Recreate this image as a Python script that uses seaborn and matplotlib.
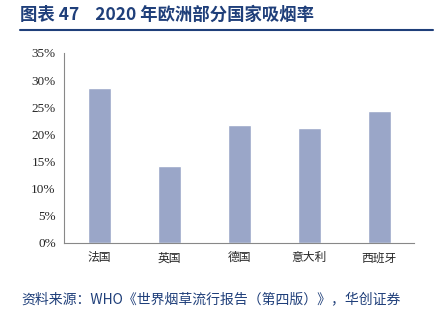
import matplotlib
matplotlib.use("Agg")
import matplotlib.pyplot as plt
import seaborn as sns
import pandas as pd
from matplotlib.ticker import FixedLocator, PercentFormatter
from matplotlib.lines import Line2D

countries = ["法国", "英国", "德国", "意大利", "西班牙"]
rates = [28.6, 14.2, 21.8, 21.1, 24.4]
yticks = [0, 5, 10, 15, 20, 25, 30, 35]

sns.set_style("white")
plt.rcParams['font.family'] = ['Noto Sans CJK SC', 'DejaVu Sans']

df = pd.DataFrame({"country": countries, "rate": rates})

fig = plt.figure(figsize=(4.36, 3.27), dpi=100)
ax = fig.add_axes([0.147, 0.257, 0.803, 0.581])
sns.barplot(data=df, x="country", y="rate", color="#9AA6C8", saturation=1,
            width=0.33, ax=ax)
ax.set_xlim(-0.5, 4.5)
ax.set_ylim(0, 35)
ax.set_yticks(yticks)
ax.yaxis.set_major_formatter(PercentFormatter(decimals=0))
ax.set_xlabel("")
ax.set_ylabel("")
for s in ["top", "right"]:
    ax.spines[s].set_visible(False)
for s in ["left", "bottom"]:
    ax.spines[s].set_color("#888888")
    ax.spines[s].set_linewidth(0.8)
ax.tick_params(axis="y", direction="out", length=4, color="#888888", width=0.8,
               labelsize=9.5, pad=2)
ax.tick_params(axis="x", which="major", length=0, labelsize=8.5, pad=6)
ax.xaxis.set_minor_locator(FixedLocator([-0.5, 0.5, 1.5, 2.5, 3.5, 4.5]))
ax.tick_params(axis="x", which="minor", direction="out", length=4, color="#888888", width=0.8)
for lab in ax.get_yticklabels():
    lab.set_fontfamily("Liberation Serif")
for lab in ax.get_xticklabels():
    lab.set_fontfamily(["Noto Sans CJK SC"])

title_color = "#1F3F7A"
fig.text(0.046, 0.955, "图表 47    2020 年欧洲部分国家吸烟率", fontsize=12.5, fontweight="bold",
         color=title_color, va="center", ha="left",
         family=["Noto Sans CJK SC", "DejaVu Sans"])
fig.add_artist(Line2D([0.046, 0.992], [0.908, 0.908], color=title_color, linewidth=1.5,
                      transform=fig.transFigure))
fig.text(0.05, 0.085, "资料来源：WHO《世界烟草流行报告（第四版）》，华创证券", fontsize=10,
         style="italic", color=title_color, va="center", ha="left",
         family=["Noto Sans CJK SC", "DejaVu Sans"])

fig.savefig("out.png", dpi=100)
